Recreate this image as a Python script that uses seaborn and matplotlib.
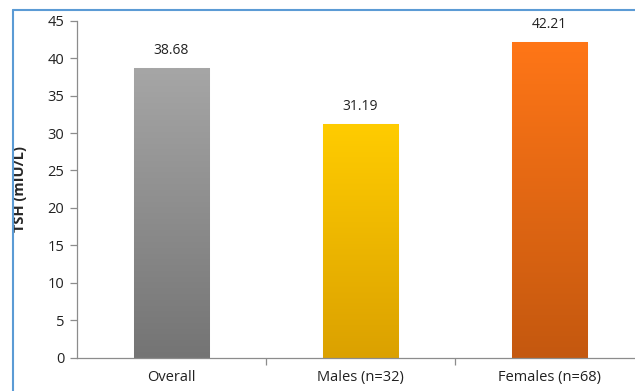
import numpy as np
import matplotlib.pyplot as plt
import seaborn as sns
from matplotlib.colors import LinearSegmentedColormap
from matplotlib.lines import Line2D

categories = ['Overall', 'Males (n=32)', 'Females (n=68)']
tsh_values = [38.68, 31.19, 42.21]
top_colors = ['#a6a6a6', '#ffcc00', '#ff7617']
bottom_colors = ['#747474', '#dba100', '#c4580f']

sns.set_style('white')
plt.rcParams['font.family'] = ['Open Sans', 'DejaVu Sans']

fig = plt.figure(figsize=(6.35, 3.91), dpi=100)
ax = fig.add_axes([77 / 635, 33.3 / 391, 567 / 635, 337 / 391])

sns.barplot(x=categories, y=tsh_values, hue=categories, palette=top_colors,
            legend=False, width=0.4, ax=ax, saturation=1)

# vertical gradient on each bar
grad = np.linspace(0, 1, 256).reshape(-1, 1)
for p, c_top, c_bot in zip(ax.patches, top_colors, bottom_colors):
    x, w, h = p.get_x(), p.get_width(), p.get_height()
    cmap = LinearSegmentedColormap.from_list('g', [c_bot, c_top])
    im = ax.imshow(grad, cmap=cmap, origin='lower', aspect='auto',
                   extent=[x, x + w, 0, h], zorder=p.get_zorder() + 0.1)
    im.set_clip_path(p)
    p.set_edgecolor('#e0e0e0')
    p.set_linewidth(0.8)
    ax.text(x + w / 2, h + 1.3, f'{h:.2f}', ha='center', va='bottom',
            fontsize=10, color='#222222')

ax.set_xlim(-0.5, 2.5)
ax.set_ylim(0, 45)
ax.set_yticks(range(0, 46, 5))
ax.set_ylabel('TSH (mIU/L)', fontsize=10.5, fontweight='bold')
ax.yaxis.set_label_coords(-0.088, 0.5)

for side in ['top', 'right']:
    ax.spines[side].set_visible(False)
for side in ['left', 'bottom']:
    ax.spines[side].set_color('#8c8c8c')
    ax.spines[side].set_linewidth(0.9)

ax.tick_params(axis='y', which='major', direction='out', length=5, width=0.9,
               color='#8c8c8c', labelsize=10.5, labelcolor='#222222', left=True, pad=4)
ax.tick_params(axis='x', which='major', length=0, labelsize=10.5,
               labelcolor='#222222', pad=9)
ax.set_xticks([0.5, 1.5], minor=True)
ax.tick_params(axis='x', which='minor', direction='out', length=5, width=0.9,
               color='#8c8c8c', bottom=True)

# blue chart frame
fig.add_artist(Line2D([13 / 635, 13 / 635], [0, 1 - 10 / 391],
                      color='#5b9bd5', lw=1.5))
fig.add_artist(Line2D([13 / 635, 1], [1 - 10 / 391, 1 - 10 / 391],
                      color='#5b9bd5', lw=1.5))

fig.savefig('out.png', dpi=100)
